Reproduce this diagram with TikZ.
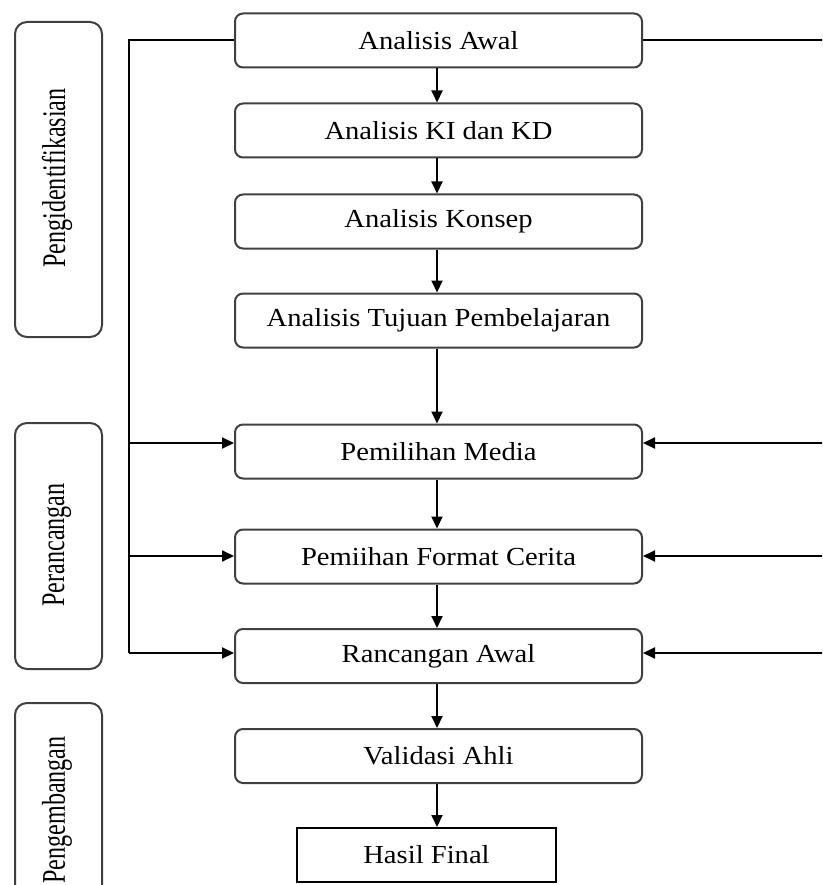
\documentclass[tikz,border=0pt]{standalone}
\usepackage{fontspec}
\setmainfont{Liberation Serif}
\usetikzlibrary{arrows.meta}
\newcommand{\mtxt}[1]{\scalebox{1.1}[1]{\fontsize{26}{28}\selectfont #1}}
\newcommand{\vtxt}[1]{\scalebox{0.73}[1]{\fontsize{33}{35}\selectfont #1}}
\tikzset{
  mainbox/.style={draw=black!75, line width=2pt, rounded corners=8pt, minimum width=407pt, minimum height=54pt, inner sep=0pt},
  finalbox/.style={draw=black, line width=2pt, minimum width=259pt, minimum height=54pt, inner sep=0pt},
  sidebox/.style={draw=black!75, line width=2pt, rounded corners=12pt, minimum width=87pt, inner sep=0pt},
  conn/.style={draw=black, line width=2pt},
  arr/.style={conn, -{Triangle[length=12pt,width=11pt]}}
}
\begin{document}
\begin{tikzpicture}[x=1pt,y=-1pt]
\useasboundingbox (0,0) rectangle (822,885);
\clip (0,0) rectangle (822,885);
% side label boxes
\node[sidebox, minimum height=315pt] (s1) at (58.5,179.5) {};
\node[rotate=90] (t1) at (57,178) {\vtxt{Pengidentifikasian}};
\node[sidebox, minimum height=246pt] (s2) at (58.5,546) {};
\node[rotate=90] (t2) at (57,545) {\vtxt{Perancangan}};
\node[sidebox, minimum height=220pt] (s3) at (58.5,813) {};
\node[rotate=90] (t3) at (57,810) {\vtxt{Pengembangan}};
% main boxes
\node[mainbox] (n1) at (438.5,40.5) {\mtxt{Analisis Awal}};
\node[mainbox] (n2) at (438.5,130.5) {\mtxt{Analisis KI dan KD}};
\node[mainbox] (n3) at (438.5,221.5) {\mtxt{Analisis Konsep}};
\node[mainbox] (n4) at (438.5,320.5) {\mtxt{Analisis Tujuan Pembelajaran}};
\node[mainbox] (n5) at (438.5,451.5) {\mtxt{Pemilihan Media}};
\node[mainbox] (n6) at (438.5,556.5) {\mtxt{Pemiihan Format Cerita}};
\node[mainbox] (n7) at (438.5,656) {\mtxt{Rancangan Awal}};
\node[mainbox] (n8) at (438.5,756) {\mtxt{Validasi Ahli}};
\node[finalbox] (n9) at (426.5,855) {\mtxt{Hasil Final}};
% vertical arrows
\draw[arr] (n1.south -| 437,0) -- (n2.north -| 437,0);
\draw[arr] (n2.south -| 437,0) -- (n3.north -| 437,0);
\draw[arr] (n3.south -| 437,0) -- (n4.north -| 437,0);
\draw[arr] (n4.south -| 437,0) -- (n5.north -| 437,0);
\draw[arr] (n5.south -| 437,0) -- (n6.north -| 437,0);
\draw[arr] (n6.south -| 437,0) -- (n7.north -| 437,0);
\draw[arr] (n7.south -| 437,0) -- (n8.north -| 437,0);
\draw[arr] (n8.south -| 437,0) -- (n9.north -| 437,0);
% left feedback
\coordinate (LT) at (129,40.5);
\coordinate (L5) at (129,443);
\coordinate (L6) at (129,556);
\coordinate (L7) at (129,653);
\draw[conn] (n1.west) -- (LT) -- (L7);
\draw[arr] (L5) -- (L5 -| n5.west);
\draw[arr] (L6) -- (L6 -| n6.west);
\draw[arr] (L7) -- (L7 -| n7.west);
% right feedback
\coordinate (RT) at (824,40.5);
\coordinate (R5) at (824,443);
\coordinate (R6) at (824,556);
\coordinate (R7) at (824,653);
\draw[conn] (n1.east) -- (RT);
\draw[arr] (R5) -- (R5 -| n5.east);
\draw[arr] (R6) -- (R6 -| n6.east);
\draw[arr] (R7) -- (R7 -| n7.east);
\end{tikzpicture}
\end{document}
